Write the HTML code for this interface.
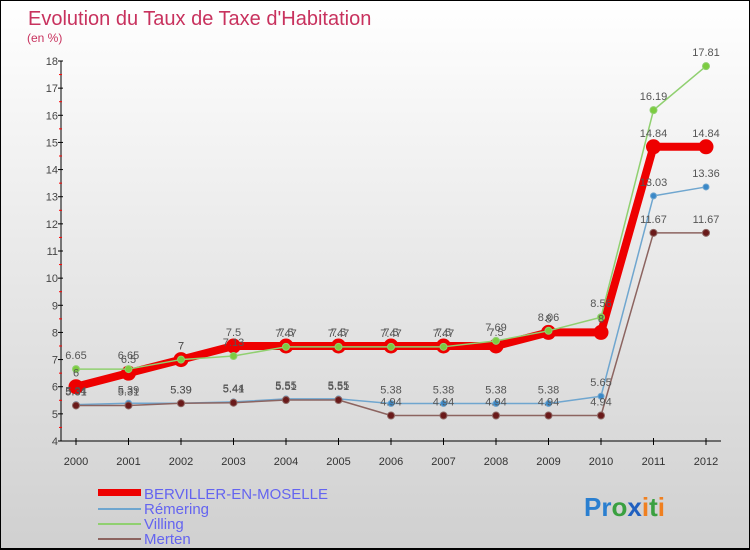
<!DOCTYPE html>
<html><head><meta charset="utf-8"><style>
body{margin:0}
#c{width:750px;height:550px;position:relative;box-sizing:border-box;border:1px solid #000;border-bottom:2px solid #000;background:linear-gradient(#fff,#d0d0d0);font-family:"Liberation Sans",sans-serif;overflow:hidden}
svg text{font-family:"Liberation Sans",sans-serif}
</style></head><body>
<div id="c">
<svg id="s" width="750" height="550">
<text x="27" y="24" font-size="20" fill="#c8325e">Evolution du Taux de Taxe d'Habitation</text>
<text x="26" y="41" font-size="12" fill="#c8325e">(en %)</text>
<g id="axes"></g><g id="series"></g><g id="labels"></g>
<g>
<rect x="97" y="488" width="43" height="7" fill="#ee0000"/>
<text x="143" y="498" font-size="15" fill="#6464f0">BERVILLER-EN-MOSELLE</text>
<rect x="97" y="507" width="43" height="2" fill="#6fa6cf"/>
<text x="143" y="513" font-size="15" fill="#6464f0">Rémering</text>
<rect x="97" y="522" width="43" height="2" fill="#90d070"/>
<text x="143" y="528" font-size="15" fill="#6464f0">Villing</text>
<rect x="97" y="537" width="43" height="2" fill="#8c6460"/>
<text x="143" y="543" font-size="15" fill="#6464f0">Merten</text>
</g>
<text x="583" y="515" font-size="26" font-weight="bold"><tspan fill="#2a7fd0">Pr</tspan><tspan fill="#3aa040">o</tspan><tspan fill="#2060c0">x</tspan><tspan fill="#f08020">i</tspan><tspan fill="#3aa040">t</tspan><tspan fill="#f08020">i</tspan></text>
</svg>
</div>
<script>
const years=[2000,2001,2002,2003,2004,2005,2006,2007,2008,2009,2010,2011,2012];
const yTicks=[4,5,6,7,8,9,10,11,12,13,14,15,16,17,18];
const berviller=[6,6.5,7,7.5,7.5,7.5,7.5,7.5,7.5,8,8,14.84,14.84];
const remering=[5.34,5.39,5.39,5.44,5.55,5.55,5.38,5.38,5.38,5.38,5.65,13.03,13.36];
const villing=[6.65,6.65,7,7.13,7.47,7.47,7.47,7.47,7.69,8.06,8.56,16.19,17.81];
const merten=[5.31,5.31,5.39,5.41,5.51,5.51,4.94,4.94,4.94,4.94,4.94,11.67,11.67];
const NS="http://www.w3.org/2000/svg";
const xS=i=>75+i*52.5;
const yS=v=>440-(v-4)*(380/14);
function mk(tag,attrs,parent){const e=document.createElementNS(NS,tag);for(const k in attrs)e.setAttribute(k,attrs[k]);parent.appendChild(e);return e;}
const ax=document.getElementById('axes');
let yl=mk('line',{x1:60,y1:yS(18),x2:60,y2:440,stroke:'#000'},ax);


let xl=mk('line',{x1:60,y1:440,x2:720,y2:440,stroke:'#000'},ax);


yTicks.forEach(t=>{
 mk('line',{x1:57,x2:62,y1:yS(t),y2:yS(t),stroke:'#000'},ax);
 if(t<18)mk('line',{x1:58,x2:61,y1:yS(t+0.5),y2:yS(t+0.5),stroke:'#f00'},ax);
 const tx=mk('text',{x:57,y:yS(t)+4,'font-size':11,fill:'#444','text-anchor':'end'},ax);
 tx.textContent=t;
 
 
});
years.forEach((y,i)=>{
 mk('line',{x1:xS(i),x2:xS(i),y1:437,y2:444,stroke:'#000'},ax);
 const tx=mk('text',{x:xS(i),y:464,'font-size':11,fill:'#333','text-anchor':'middle'},ax);
 tx.textContent=y;
 
 
});
const sg=document.getElementById('series'),lg=document.getElementById('labels');
function draw(data,name,col,w,r,dot){
 const g=mk('g',{},sg);
 
 
 const p=mk('polyline',{points:data.map((v,i)=>xS(i)+','+yS(v)).join(' '),fill:'none',stroke:col,'stroke-width':w,'stroke-linejoin':'round'},g);
 
 
 data.forEach((v,i)=>{
  const c=mk('circle',{cx:xS(i),cy:yS(v),r:r,fill:dot,stroke:col,'stroke-width':1},g);
  
  
  const t=mk('text',{x:xS(i),y:yS(v)-10,'font-size':11,fill:'#555','text-anchor':'middle'},lg);
  t.textContent=v;
  
  
 });
}
draw(berviller,'berviller','#ee0000',8,7,'#ee0000');
draw(remering,'remering','#6fa6cf',1.5,3,'#3a88c8');
draw(villing,'villing','#90d070',1.5,3.5,'#7ccc40');
draw(merten,'merten','#8c6460',1.5,3.5,'#6a1a1a');
</script>
</body></html>
